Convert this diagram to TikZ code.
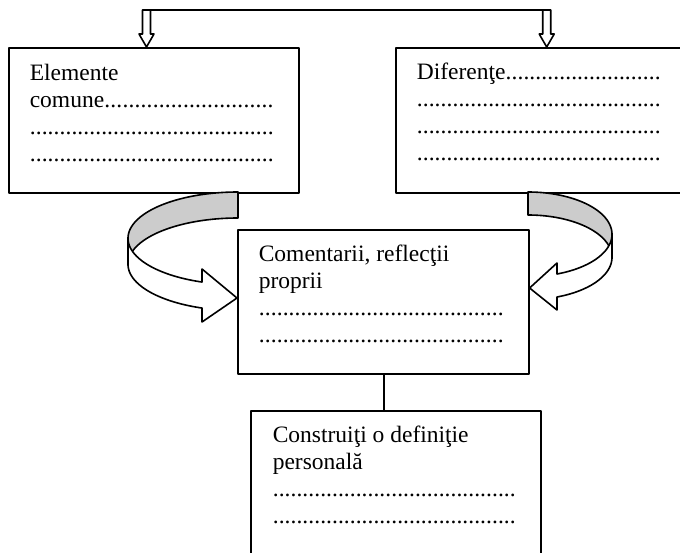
\documentclass[tikz,border=0pt]{standalone}
\usepackage{fontspec}
\setmainfont{Liberation Serif}
\usetikzlibrary{calc}
% a line of text followed by periods up to a fixed width
\newcommand\dotrow[2]{\hbox to #1{#2\xleaders\hbox{.}\hfill}}
% stacked lines; the baseline of the stack is that of its first line
\newcommand\boxlines[1]{\vtop{\baselineskip=27pt\lineskiplimit=-100pt #1}}
% hollow downward arrow ending at #1
\newcommand\hollowdown[1]{%
  \draw[fill=white] (#1) -- ++(-7.5,-13) -- ++(3.5,0) -- ++(0,-24) -- ++(8,0)
    -- ++(0,24) -- ++(3.5,0) -- cycle;}
\begin{document}
\begin{tikzpicture}[x=1pt,y=-1pt,line width=1.6pt,line join=round,
  box/.style={draw,rectangle,inner sep=0pt,anchor=north west},
  txt/.style={anchor=base west,inner sep=0pt,font=\fontsize{23.5pt}{27pt}\selectfont},
  band/.style={draw,line join=round}]
\useasboundingbox (0,0) rectangle (680,553);
\clip (0,0) rectangle (680,553);

% frames
\node[box,minimum width=290pt,minimum height=145pt] (L) at (8,47) {};
\node[box,minimum width=310pt,minimum height=145pt] (R) at (395,47) {};
\node[box,minimum width=291pt,minimum height=144pt] (C) at (237,229) {};
\node[box,minimum width=290pt,minimum height=170pt] (B) at (250,410) {};

% texts
\node[txt] (tL) at (29,80.5) {\boxlines{\hbox{Elemente}\dotrow{244pt}{comune}\dotrow{244pt}{}\dotrow{244pt}{}}};
\node[txt] (tR) at (416,80) {\boxlines{\dotrow{244pt}{Diferenţe}\dotrow{244pt}{}\dotrow{244pt}{}\dotrow{244pt}{}}};
\node[txt] (tC) at (258,261.5) {\boxlines{\hbox{Comentarii, reflecţii}\hbox{proprii}\dotrow{245pt}{}\dotrow{245pt}{}}};
\node[txt] (tB) at (272,442) {\boxlines{\hbox{Construiţi o definiţie}\hbox{personală}\dotrow{243pt}{}\dotrow{243pt}{}}};

% top connector with hollow arrows into the two upper frames
\coordinate (pL) at (146.5,0);
\coordinate (pR) at (546.7,0);
\hollowdown{L.north -| pL}
\hollowdown{R.north -| pR}
\draw ($(L.north -| pL)+(-4,-37)$) -- ($(R.north -| pR)+(4,-37)$);

% link between the middle and the lower frame
\coordinate (cb) at (384,0);
\draw (C.south -| cb) -- (B.north -| cb);

% left curved arrow: back (grey) half, then front (white) half
\draw[band,fill=gray!40]
  plot[domain=90:180,samples=50] ({238+110*cos(\x)},{238.3-46.3*sin(\x)})
  -- (128,264.3)
  -- plot[domain=180:90,samples=50] ({238+110*cos(\x)},{264.3-46.3*sin(\x)})
  -- cycle;
\draw[band,fill=white]
  plot[domain=180:250.9,samples=50] ({238+110*cos(\x)},{238.3-46.3*sin(\x)})
  -- (202,269) -- (C.west |- 0,298) -- (202,322)
  -- plot[domain=250.9:180,samples=50] ({238+110*cos(\x)},{264.3-46.3*sin(\x)})
  -- cycle;

% right curved arrow
\draw[band,fill=gray!40]
  plot[domain=90:0,samples=50] ({528+84*cos(\x)},{234.3-42.3*sin(\x)})
  -- (612,257.3)
  -- plot[domain=0:90,samples=50] ({528+84*cos(\x)},{257.3-42.3*sin(\x)})
  -- cycle;
\draw[band,fill=white]
  plot[domain=0:-69.8,samples=50] ({528+84*cos(\x)},{234.3-42.3*sin(\x)})
  -- (557,263) -- (C.east |- 0,288) -- (557,310)
  -- plot[domain=-69.8:0,samples=50] ({528+84*cos(\x)},{257.3-42.3*sin(\x)})
  -- cycle;
\end{tikzpicture}
\end{document}
